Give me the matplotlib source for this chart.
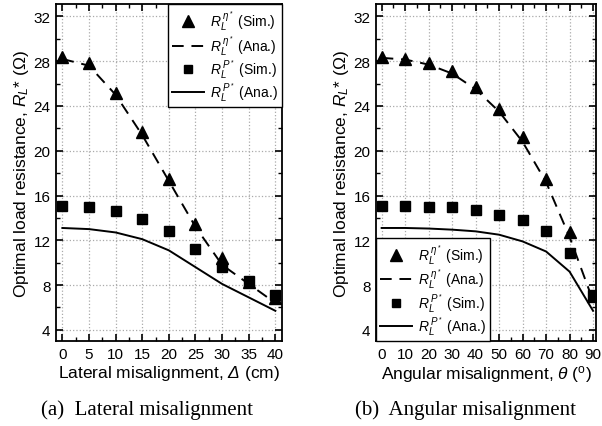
import matplotlib
matplotlib.use("Agg")
import matplotlib.pyplot as plt
from matplotlib.ticker import MultipleLocator

plt.rcParams['font.family'] = ['Liberation Sans', 'DejaVu Sans']
plt.rcParams['mathtext.fontset'] = 'custom'
plt.rcParams['mathtext.rm'] = 'Liberation Sans'
plt.rcParams['mathtext.it'] = 'Liberation Sans:italic'
plt.rcParams['mathtext.bf'] = 'Liberation Sans:bold'
# sf slot used for an italic capital Delta (mathtext forces Greek capitals upright in 'it')
plt.rcParams['mathtext.sf'] = 'Liberation Sans:italic'

# (a) lateral misalignment, cm
lat_x = [0, 5, 10, 15, 20, 25, 30, 35, 40]
lat_eta_sim = [28.4, 27.8, 25.2, 21.7, 17.5, 13.5, 10.4, 8.3, 6.8]
lat_eta_ana = [28.2, 27.6, 25.0, 21.4, 17.3, 13.2, 9.8, 8.1, 6.4]
lat_p_sim = [15.1, 15.0, 14.6, 13.9, 12.8, 11.2, 9.6, 8.35, 7.1]
lat_p_ana = [13.1, 13.0, 12.7, 12.1, 11.1, 9.6, 8.1, 6.9, 5.7]

# (b) angular misalignment, deg
ang_x = [0, 10, 20, 30, 40, 50, 60, 70, 80, 90]
ang_eta_sim = [28.4, 28.2, 27.8, 27.1, 25.7, 23.75, 21.2, 17.5, 12.7, 7.0]
ang_eta_ana = [28.3, 28.15, 27.7, 26.9, 25.5, 23.5, 20.8, 17.2, 12.3, 6.6]
ang_p_sim = [15.1, 15.1, 15.0, 14.95, 14.7, 14.3, 13.8, 12.8, 10.85, 7.1]
ang_p_ana = [13.1, 13.1, 13.05, 12.95, 12.8, 12.5, 11.9, 11.0, 9.2, 5.7]

labels = [r'$R_L^{\,\eta^*}$ (Sim.)', r'$R_L^{\,\eta^*}$ (Ana.)',
          r'$R_L^{\,P^*}$ (Sim.)', r'$R_L^{\,P^*}$ (Ana.)']


def draw(ax, x, eta_sim, eta_ana, p_sim, p_ana):
    ax.plot(x, eta_sim, '^', color='black', markersize=9, label=labels[0], zorder=3)
    ax.plot(x, eta_ana, '--', color='black', linewidth=1.4, dashes=(6, 4), label=labels[1])
    ax.plot(x, p_sim, 's', color='black', markersize=7, label=labels[2], zorder=3)
    ax.plot(x, p_ana, '-', color='black', linewidth=1.4, label=labels[3])
    ax.set_ylim(3.0, 33.1)
    ax.yaxis.set_major_locator(MultipleLocator(4))
    ax.yaxis.set_minor_locator(MultipleLocator(2))
    ax.grid(True, which='major', linestyle=':', color='#aaaaaa', linewidth=0.9)
    ax.tick_params(which='both', direction='in', top=True, right=True, labelsize=11)
    ax.tick_params(which='major', length=5, width=1.2, pad=4)
    ax.tick_params(which='minor', length=3, width=1.0)
    for s in ax.spines.values():
        s.set_linewidth(1.3)
    ax.set_ylabel(r'Optimal load resistance, $R_L$* ($\Omega$)', fontsize=12.5, labelpad=2)


def add_legend(ax, loc):
    leg = ax.legend(loc=loc, borderaxespad=0, fontsize=10, handlelength=2.3,
                    handletextpad=0.4, labelspacing=0.05, borderpad=0.3,
                    fancybox=False, edgecolor='black', framealpha=1, markerscale=0.9)
    leg.get_frame().set_linewidth(1.0)
    return leg


fig = plt.figure(figsize=(6.02, 4.27), dpi=100)
ax1 = fig.add_axes([0.093, 0.199, 0.375, 0.789])
ax2 = fig.add_axes([0.6246, 0.199, 0.366, 0.789])

draw(ax1, lat_x, lat_eta_sim, lat_eta_ana, lat_p_sim, lat_p_ana)
ax1.set_xlim(-1.2, 41.2)
ax1.xaxis.set_major_locator(MultipleLocator(5))
ax1.xaxis.set_minor_locator(MultipleLocator(2.5))
ax1.set_xlabel(r'Lateral misalignment, $\mathsf{Δ}$ (cm)', fontsize=12.5, labelpad=2)
add_legend(ax1, 'upper right')

draw(ax2, ang_x, ang_eta_sim, ang_eta_ana, ang_p_sim, ang_p_ana)
ax2.set_xlim(-2.4, 91.4)
ax2.xaxis.set_major_locator(MultipleLocator(10))
ax2.xaxis.set_minor_locator(MultipleLocator(5))
ax2.set_xlabel(r'Angular misalignment, $\theta$ ($^{\rm o}$)', fontsize=12.5, labelpad=2)
add_legend(ax2, 'lower left')

fig.text(0.245, 0.04, '(a)  Lateral misalignment', ha='center', va='center',
         fontsize=15, family='Liberation Serif')
fig.text(0.774, 0.04, '(b)  Angular misalignment', ha='center', va='center',
         fontsize=15, family='Liberation Serif')

fig.savefig('out.png', dpi=100)
